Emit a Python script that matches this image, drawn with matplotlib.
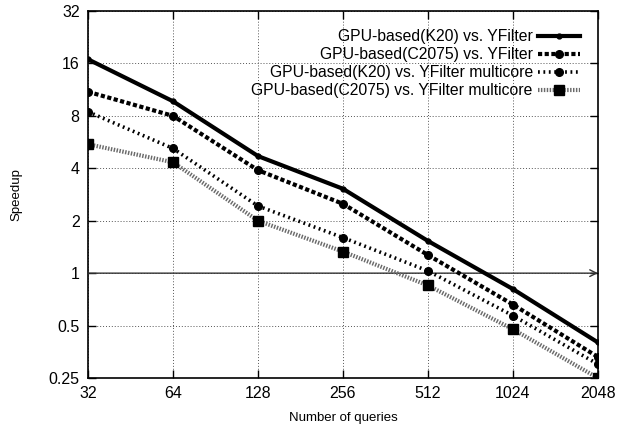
import matplotlib
matplotlib.use("Agg")
import matplotlib.pyplot as plt
from matplotlib.ticker import FixedLocator, FixedFormatter, NullLocator

queries = [32, 64, 128, 256, 512, 1024, 2048]
y_ticks = [0.25, 0.5, 1, 2, 4, 8, 16, 32]
y_tick_labels = ["0.25", "0.5", "1", "2", "4", "8", "16", "32"]

k20_vs_yfilter = [16.9, 9.7, 4.7, 3.05, 1.53, 0.81, 0.40]
c2075_vs_yfilter = [11.0, 8.0, 3.9, 2.5, 1.27, 0.66, 0.33]
k20_vs_multicore = [8.45, 5.2, 2.43, 1.6, 1.03, 0.57, 0.30]
c2075_vs_multicore = [5.5, 4.33, 2.0, 1.33, 0.85, 0.476, 0.25]

labels = [
    "GPU-based(K20) vs. YFilter",
    "GPU-based(C2075) vs. YFilter",
    "GPU-based(K20) vs. YFilter multicore",
    "GPU-based(C2075) vs. YFilter multicore",
]

plt.rcParams["font.family"] = ["Liberation Sans", "DejaVu Sans"]

fig = plt.figure(figsize=(6.18, 4.30), dpi=100)
ax = fig.add_axes([0.1424, 0.1209, 0.8252, 0.8535])

ax.plot(queries, k20_vs_yfilter, color="black", lw=3.0, ls="-",
        marker="o", ms=3.5, label=labels[0], zorder=5)
ax.plot(queries, c2075_vs_yfilter, color="black", lw=3.0, ls=(0, (1.0, 0.6)),
        marker="o", ms=5.5, label=labels[1], zorder=5)
ax.plot(queries, k20_vs_multicore, color="black", lw=2.6, ls=(0, (0.5, 1.0)),
        marker="o", ms=5.5, label=labels[2], zorder=5)
ax.plot(queries, c2075_vs_multicore, color="#6a6a6a", lw=3.0, ls=(0, (0.35, 0.35)),
        marker="s", ms=6.5, mfc="black", mec="black", label=labels[3], zorder=5)

# gnuplot-style arrow along speedup = 1
ax.annotate("", xy=(queries[-1], 1), xytext=(queries[0], 1),
            arrowprops=dict(arrowstyle="->", color="#333333", lw=1.0,
                            shrinkA=0, shrinkB=0, mutation_scale=12),
            zorder=3)

ax.set_xscale("log", base=2)
ax.set_yscale("log", base=2)
ax.set_xlim(queries[0], queries[-1])
ax.set_ylim(y_ticks[0], y_ticks[-1])

ax.xaxis.set_major_locator(FixedLocator(queries))
ax.xaxis.set_major_formatter(FixedFormatter([str(q) for q in queries]))
ax.xaxis.set_minor_locator(NullLocator())
ax.yaxis.set_major_locator(FixedLocator(y_ticks))
ax.yaxis.set_major_formatter(FixedFormatter(y_tick_labels))
ax.yaxis.set_minor_locator(NullLocator())

ax.tick_params(direction="in", length=6, width=1, top=True, right=True,
               labelsize=11.5, pad=6)
ax.grid(True, color="#555555", ls=(0, (1, 2)), lw=0.7)

for s in ax.spines.values():
    s.set_linewidth(1.2)

ax.set_xlabel("Number of queries", fontsize=9.5, labelpad=8)
ax.set_ylabel("Speedup", fontsize=9.5)
ax.yaxis.set_label_coords(-0.129, 0.5)

leg = ax.legend(loc="upper right", markerfirst=False, frameon=False,
                fontsize=11.3, handlelength=2.7, labelspacing=0.2,
                borderaxespad=0.75, handletextpad=0.3, borderpad=0.4)

fig.savefig("out.png", dpi=100)
